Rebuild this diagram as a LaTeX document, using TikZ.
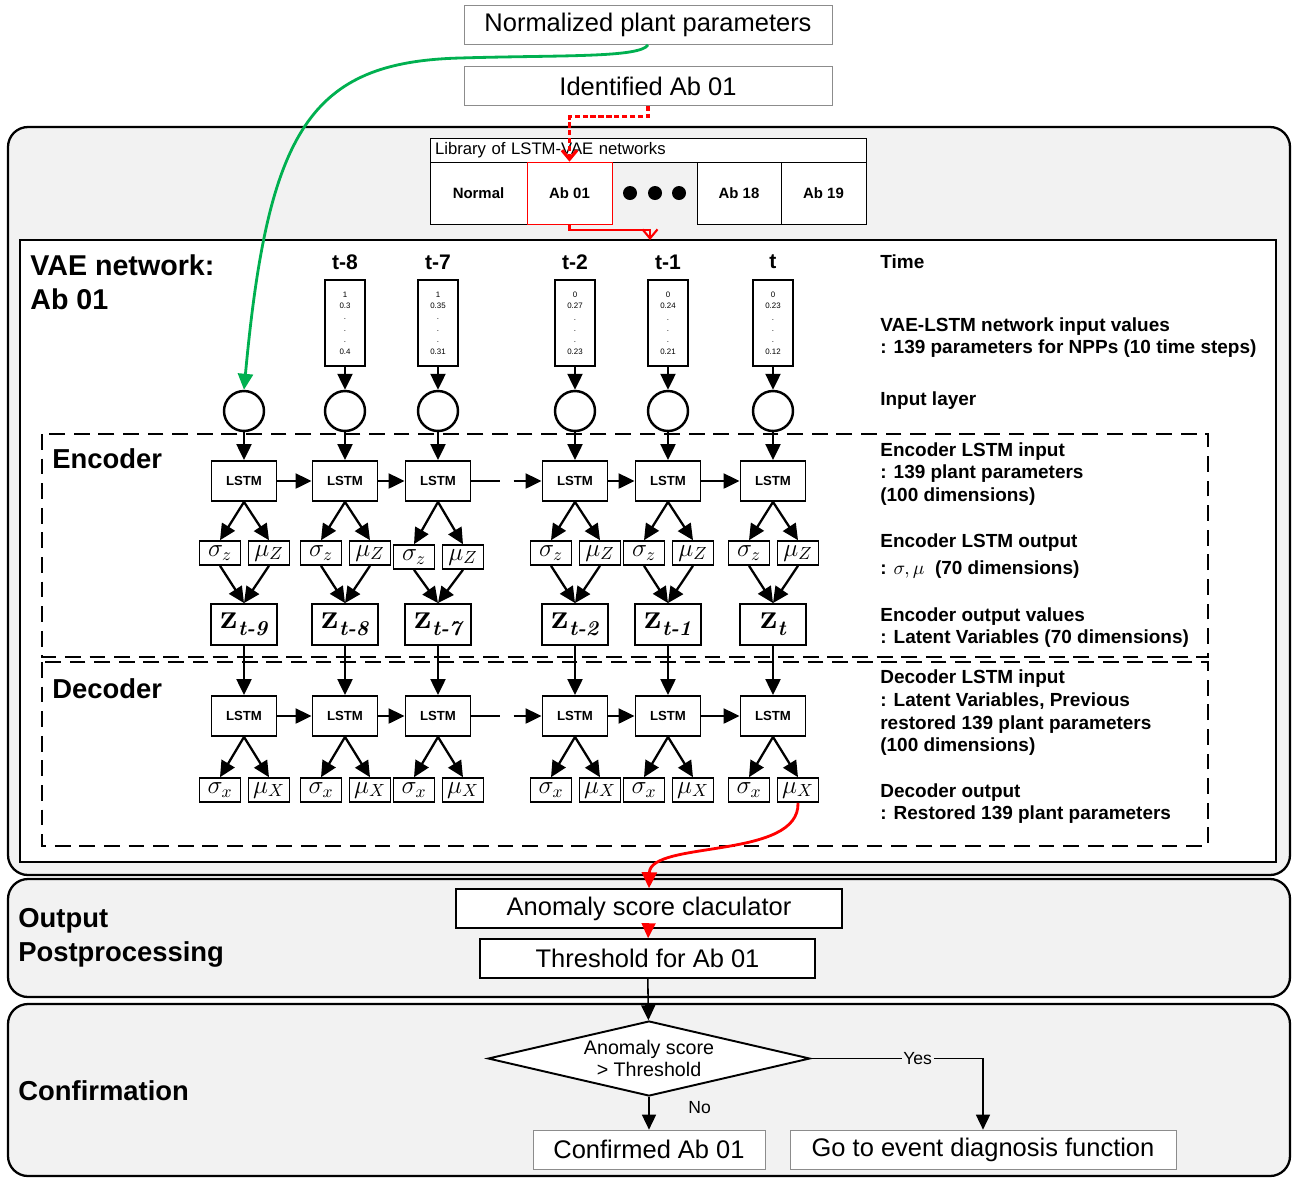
\documentclass[tikz,border=0pt]{standalone}
\usepackage{fontspec}
\setsansfont{Liberation Sans}
\renewcommand{\familydefault}{\sfdefault}
\usepackage{tikz}
\usetikzlibrary{arrows.meta,shapes.geometric}
\newcommand{\fsz}[2]{\fontsize{#1}{#2}\selectfont}
\definecolor{panelgray}{RGB}{242,242,242}
\definecolor{linkgreen}{RGB}{0,176,80}
\definecolor{linkred}{RGB}{255,0,0}

\begin{document}
\begin{tikzpicture}[x=0.02cm, y=-0.02cm,
  box/.style={draw=black!45, fill=white, minimum width=#1, minimum height=0.78cm,
              inner sep=0pt, font=\fsz{14.5}{16}},
  box/.default=7.36cm,
  panel/.style={draw, line width=1.3pt, rounded corners=0.4cm, fill=panelgray},
  head/.style={font=\bfseries\fsz{15.6}{19.5}, align=left, inner sep=0pt},
  cell/.style={draw, fill=white, minimum height=1.24cm, minimum width=#1, inner sep=0pt,
               font=\bfseries\fsz{8.5}{10}},
  lstm/.style={draw, line width=1.1pt, fill=white, minimum width=1.3cm, minimum height=0.8cm,
               inner sep=0pt, font=\bfseries\fsz{7.5}{9}},
  zbox/.style={lstm, minimum width=1.32cm, minimum height=0.82cm, font=\rmfamily\bfseries\fsz{20}{20}},
  sbox/.style={draw, line width=0.9pt, fill=white, minimum width=0.82cm, minimum height=0.48cm,
               inner sep=0pt, font=\fsz{14}{14}},
  vec/.style={draw, line width=1.1pt, fill=white, minimum width=0.8cm, minimum height=1.72cm,
              inner sep=0pt, align=center, font=\fsz{4.5}{6.5}},
  neuron/.style={circle, draw, line width=1.4pt, fill=white, minimum size=0.8cm, inner sep=0pt},
  tlbl/.style={font=\bfseries\fsz{12}{14}},
  note/.style={anchor=west, align=left, inner sep=0pt, font=\bfseries\fsz{10.8}{12.9}},
  lbl/.style={font=\fsz{10}{12}, inner sep=1pt},
  arr/.style={line width=1.3pt, -{Triangle[length=0.32cm, width=0.3cm]}},
  thin arr/.style={line width=0.9pt, -{Triangle[length=0.3cm, width=0.28cm]}},
  redarr/.style={draw=linkred, line width=1.2pt, -{Straight Barb[length=0.18cm, width=0.3cm]}}]
  \useasboundingbox (0,0) rectangle (1298,1178);

  % inputs from the identification step
  \node[box] (norm)  at (648,25) {Normalized plant parameters};
  \node[box] (ident) at (648,86) {Identified Ab 01};

  % VAE panel
  \draw[panel] (8,127) rectangle (1290,875);
  \node[cell=8.72cm, minimum height=0.48cm, text width=8.52cm, inner xsep=0.1cm, align=left,
        font=\fsz{9.5}{11}] (lib) at (648,150) {Library of LSTM-VAE networks};
  \node[cell=1.94cm] (cnormal) at (478.5,193) {Normal};
  \node[cell=1.68cm] (cab18)   at (739,193)   {Ab 18};
  \node[cell=1.7cm]  (cab19)   at (823.5,193) {Ab 19};
  \node[cell=1.7cm, draw=linkred] (cab01) at (569.5,193) {Ab 01};
  \foreach \d in {630,655,679} \fill (\d,193) circle (0.14cm);

  \draw[line width=1.3pt, fill=white] (20,240) rectangle (1276,862);
  \coordinate (vaetop) at (650,240);
  \node[head, anchor=north west, font=\bfseries\fsz{16.3}{19.5}] (vaehead) at (30,254) {VAE network:\\Ab 01};

  \draw[line width=0.9pt, dash pattern=on 9pt off 5pt] (42,434) rectangle (1208,657);
  \draw[line width=0.9pt, dash pattern=on 9pt off 5pt] (42,662) rectangle (1208,846);
  \node[head, anchor=west] (enchead) at (52,459) {Encoder};
  \node[head, anchor=west] (dechead) at (52,689) {Decoder};

  % one column per time step
  \foreach \n/\x/\zs/\dy in {a/244/t-9/0, b/345/t-8/0, c/438/t-7/4, d/575/t-2/0, e/668/t-1/0, f/773/t/0} {
    \node[neuron] (in\n)  at (\x,411) {};
    \node[lstm]   (enc\n) at (\x,481) {LSTM};
    \node[sbox]   (sz\n)  at (\x-24,553+\dy) {$\sigma_z$};
    \node[sbox]   (mz\n)  at (\x+25,553+\dy) {$\mu_Z$};
    \node[zbox]   (z\n)   at (\x,624.5) {z\raisebox{-0.45ex}{\fsz{12}{12}\itshape\zs}};
    \node[lstm]   (dec\n) at (\x,716) {LSTM};
    \node[sbox]   (sx\n)  at (\x-24,790) {$\sigma_x$};
    \node[sbox]   (mx\n)  at (\x+25,790) {$\mu_X$};
    \draw[arr] (in\n) -- (enc\n);
    \draw[arr] (enc\n.south) -- (sz\n.north);
    \draw[arr] (enc\n.south) -- (mz\n.north);
    \draw[arr] (sz\n.south) -- (z\n.north);
    \draw[arr] (mz\n.south) -- (z\n.north);
    \draw[arr] (z\n) -- (dec\n);
    \draw[arr] (dec\n.south) -- (sx\n.north);
    \draw[arr] (dec\n.south) -- (mx\n.north);
  }
  \foreach \n/\x/\tm/\va/\vb/\vc in {b/345/t-8/1/0.3/0.4, c/438/t-7/1/0.35/0.31, d/575/t-2/0/0.27/0.23,
                                     e/668/t-1/0/0.24/0.21, f/773/t/0/0.23/0.12} {
    \node[tlbl] (time\n) at (\x,262) {\tm};
    \node[vec]  (vec\n)  at (\x,323) {\va\\\vb\\.\\.\\.\\\vc};
    \draw[arr] (vec\n) -- (in\n);
  }
  \foreach \p/\q in {a/b, b/c, d/e, e/f} {
    \draw[arr] (enc\p) -- (enc\q);
    \draw[arr] (dec\p) -- (dec\q);
  }
  \draw[arr, dash pattern=on 16pt off 8pt on 8pt off 20pt] (encc) -- (encd);
  \draw[arr, dash pattern=on 16pt off 8pt on 8pt off 20pt] (decc) -- (decd);

  % descriptions on the right
  \node[note] (ntime)   at (880,262)   {Time};
  \node[note] (ninput)  at (880,337.5) {VAE-LSTM network input values\\: 139 parameters for NPPs (10 time steps)};
  \node[note] (nlayer)  at (880,401)   {Input layer};
  \node[note] (nencin)  at (880,474)   {Encoder LSTM input\\: 139 plant parameters\\(100 dimensions)};
  \node[note] (nencout) at (880,556)   {Encoder LSTM output\\[2pt]: $\sigma, \mu$\ \ (70 dimensions)};
  \node[note] (nz)      at (880,627.5) {Encoder output values\\: Latent Variables (70 dimensions)};
  \node[note] (ndecin)  at (880,713)   {Decoder LSTM input\\: Latent Variables, Previous\\restored 139 plant parameters\\(100 dimensions)};
  \node[note] (ndecout) at (880,803.5) {Decoder output\\: Restored 139 plant parameters};

  % postprocessing
  \draw[panel] (8,879) rectangle (1290,997);
  \node[head, anchor=west] (outhead) at (18,938) {Output\\Postprocessing};
  \node[box=7.72cm, draw=black, line width=0.9pt] (anom) at (649,908.5) {Anomaly score claculator};
  \node[box=6.7cm, draw=black, line width=0.9pt]  (thr)  at (647.5,958.5) {Threshold for Ab 01};

  % confirmation
  \draw[panel] (8,1004) rectangle (1290,1176);
  \node[head, anchor=west] (confhead) at (18,1091) {Confirmation};
  \node[diamond, draw, line width=1.1pt, fill=white, aspect=4.3, minimum width=6.44cm,
        minimum height=1.5cm, inner sep=0pt, align=center, font=\fsz{11.2}{12.5}] (check)
        at (649,1058.5) {Anomaly score\\> Threshold};
  \node[box=4.64cm] (conf) at (649,1149.5) {Confirmed Ab 01};
  \node[box=7.72cm] (goto) at (983,1149.5) {Go to event diagnosis function};

  % connectors
  \draw[line width=1.6pt, color=linkgreen, -{Triangle[length=0.32cm, width=0.3cm]}]
    (norm.south) .. controls (640,58) and (560,55) .. (460,58)
                 .. controls (310,62) and (268,130) .. (ina.north);
  \draw[redarr, dash pattern=on 3pt off 1.5pt, line width=1.8pt] (ident.south) -- ++(0,11) -| (cab01.north);
  \draw[redarr] (cab01.south) -- ++(0,6) -| (vaetop);
  \draw[line width=1.6pt, color=linkred, -{Triangle[length=0.32cm, width=0.3cm]}]
    (mxf.south) .. controls (800,860) and (650,840) .. (anom.north);
  \draw[thin arr, color=linkred] (anom) -- (thr);
  \draw[thin arr] (thr) -- (check);
  \draw[thin arr] (check.east) -| node[lbl, pos=0.31, fill=panelgray] {Yes} (goto.north);
  \draw[thin arr] (check.south) -- node[lbl, pos=0.32, right=21pt] {No} (conf.north);
\end{tikzpicture}
\end{document}
